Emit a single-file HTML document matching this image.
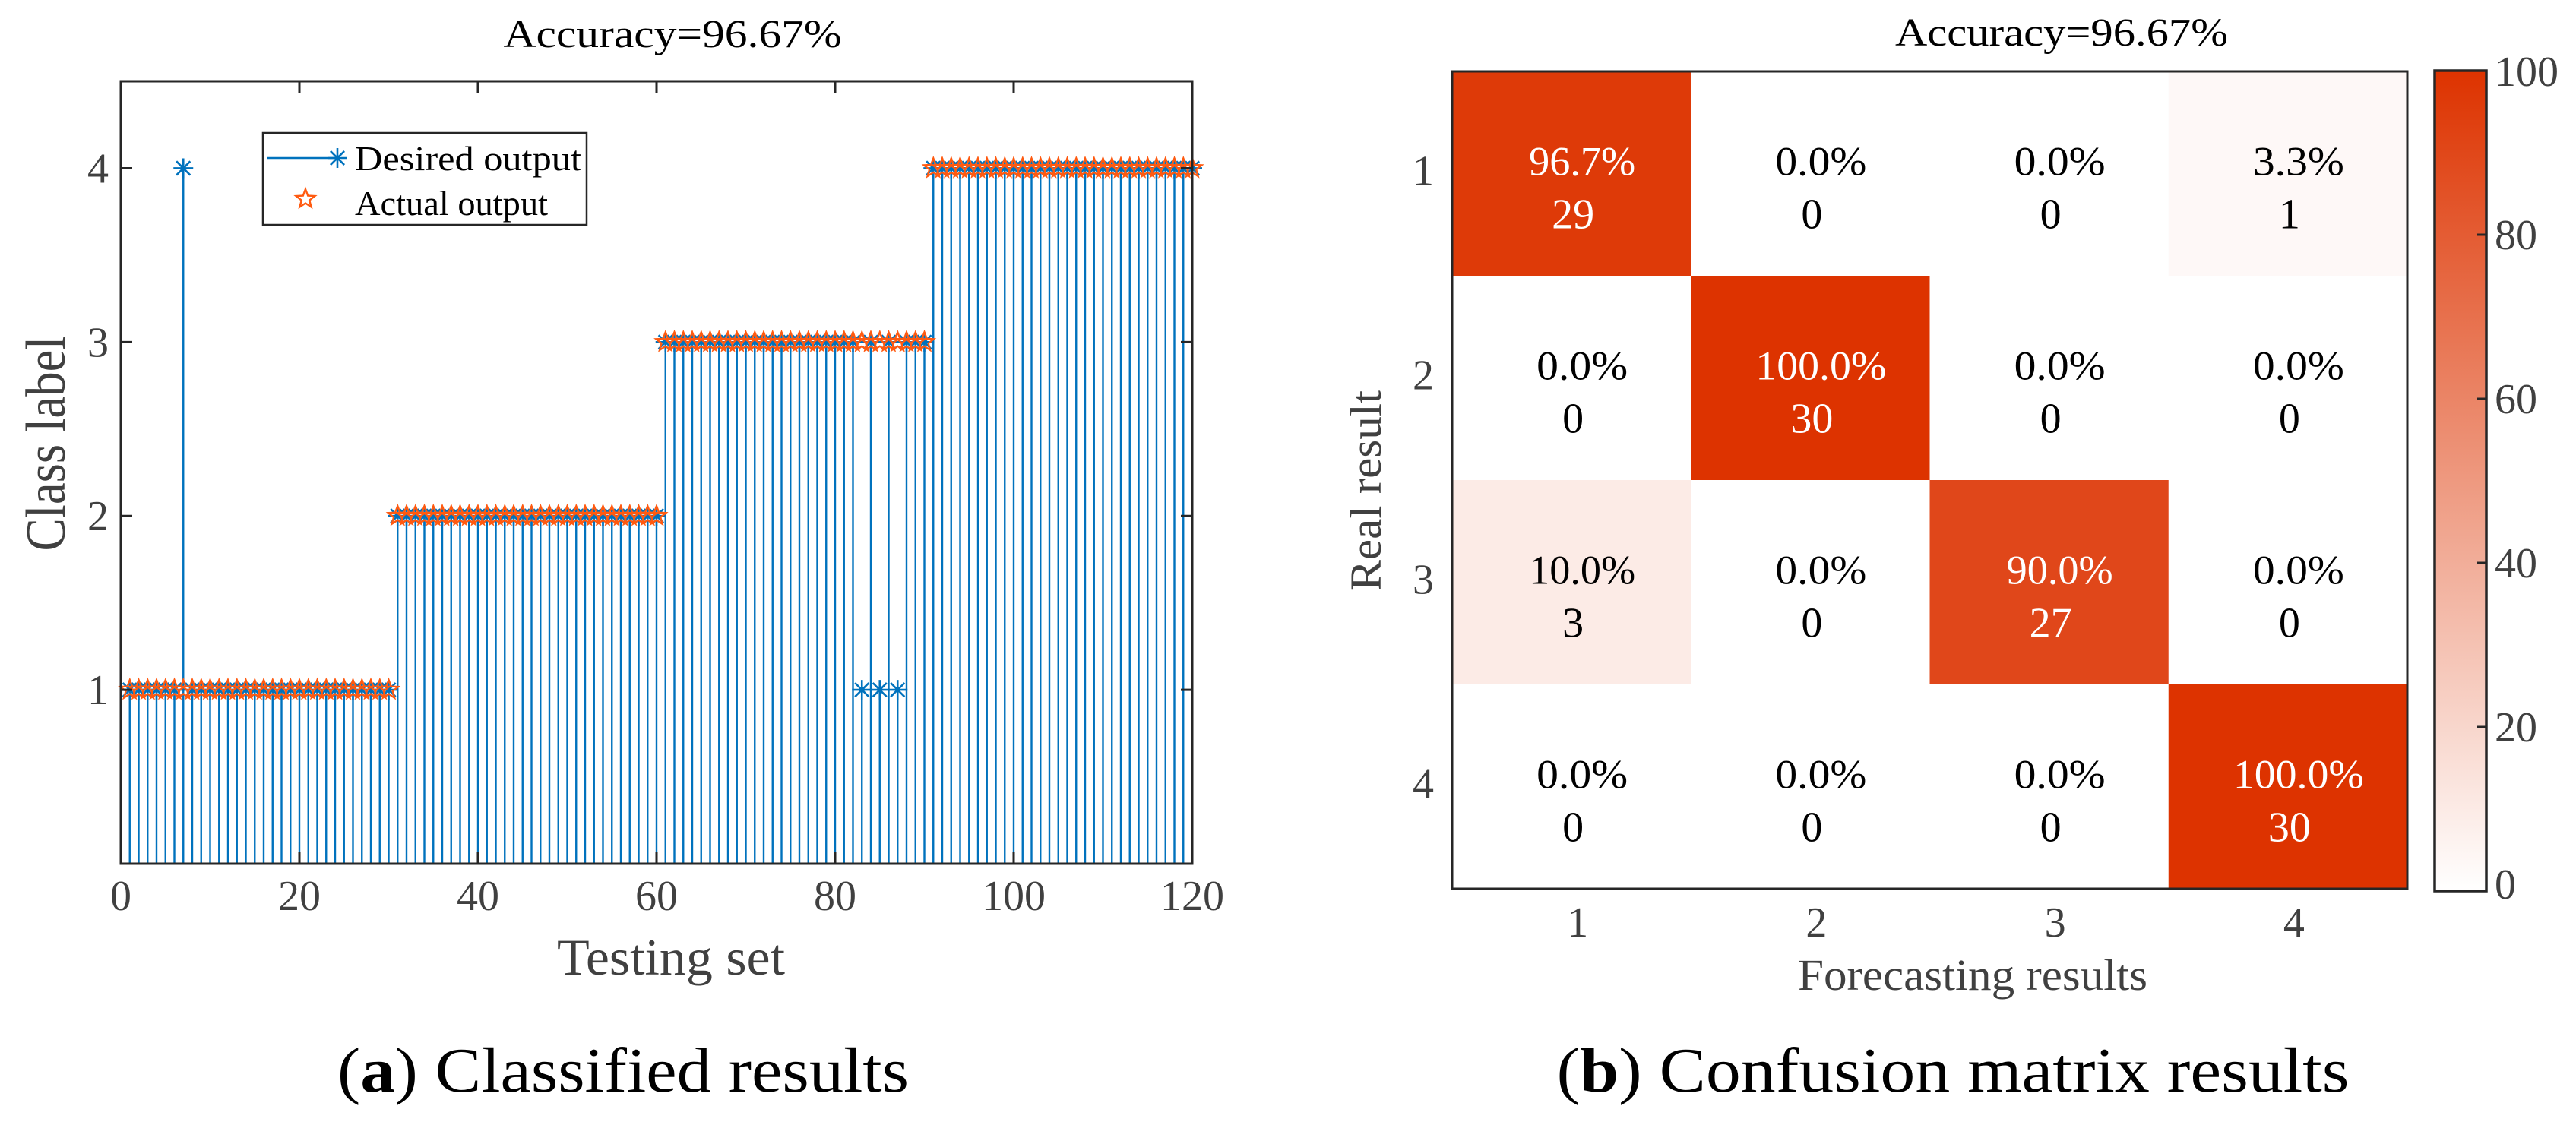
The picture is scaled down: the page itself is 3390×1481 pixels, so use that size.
<!DOCTYPE html>
<html><head><meta charset="utf-8"><style>
html,body{margin:0;padding:0;background:#fff;}
svg{display:block;font-family:"Liberation Serif",serif;}
</style></head><body>
<svg id="fig" width="3390" height="1481" viewBox="0 0 3390 1481" xmlns="http://www.w3.org/2000/svg">
<g id="left"></g>
<g id="right"></g>
</svg>
<script>
// ---------- data: classified results ----------
const sampleCount = 120;
const predictedErrors = [[7,4],[83,1],[85,1],[87,1]]; // [index, predicted class]
const trueClassBlocks = [1,2,3,4]; // 30 samples each
const leftXTicks = [0,20,40,60,80,100,120];
const leftYTicks = [1,2,3,4];
// ---------- data: confusion matrix ----------
const cmClasses = ['1','2','3','4'];
const cmPercent = [[96.7,0,0,3.3],[0,100,0,0],[10,0,90,0],[0,0,0,100]];
const cmCounts = [[29,0,0,1],[0,30,0,0],[3,0,27,0],[0,0,0,30]];
const cbTicks = [0,20,40,60,80,100];

const NS='http://www.w3.org/2000/svg';
function mk(parent,tag,attrs,text){const e=document.createElementNS(NS,tag);for(const k in attrs)e.setAttribute(k,attrs[k]);if(text!==undefined)e.textContent=text;parent.appendChild(e);return e;}

// ---------- left panel ----------
const L=document.getElementById('left');
const ax={x0:159,x1:1569,y0:1137,y1:107,xmax:120,ymax:4.5};
const X=v=>ax.x0+(v/ax.xmax)*(ax.x1-ax.x0);
const Y=v=>ax.y0-(v/ax.ymax)*(ax.y0-ax.y1);
const trueCls=[],predCls=[];
for(let i=1;i<=sampleCount;i++){const c=trueClassBlocks[Math.floor((i-1)/30)];trueCls.push(c);predCls.push(c);}
predictedErrors.forEach(([i,c])=>{predCls[i-1]=c;});

const stems=mk(L,'g',{});


function asterisk(g,cx,cy,r){
  const p=`M${cx-r},${cy}H${cx+r}M${cx},${cy-r}V${cy+r}M${cx-r*0.7},${cy-r*0.7}L${cx+r*0.7},${cy+r*0.7}M${cx-r*0.7},${cy+r*0.7}L${cx+r*0.7},${cy-r*0.7}`;
  return mk(g,'path',{d:p,stroke:'#0072BD','stroke-width':2.6,fill:'none'});
}
function starPath(cx,cy,R){const r=R*0.42;let d='';for(let k=0;k<10;k++){const a=-Math.PI/2+k*Math.PI/5;const rr=k%2?r:R;d+=(k?'L':'M')+(cx+rr*Math.cos(a)).toFixed(1)+','+(cy+rr*Math.sin(a)).toFixed(1);}return d+'Z';}
for(let i=1;i<=sampleCount;i++){
  const s=mk(stems,'line',{x1:X(i),x2:X(i),y1:Y(0),y2:Y(predCls[i-1]),stroke:'#0072BD','stroke-width':2.4});
  
  
}
const stars=mk(L,'g',{});


for(let i=1;i<=sampleCount;i++){
  const a=asterisk(stems,X(i),Y(predCls[i-1]),13);
  
  
  const st=mk(stars,'path',{d:starPath(X(i),Y(trueCls[i-1]),13),fill:'none',stroke:'#FF5A10','stroke-width':2.4});
  
  
}
const box=mk(L,'rect',{x:ax.x0,y:ax.y1,width:ax.x1-ax.x0,height:ax.y0-ax.y1,fill:'none',stroke:'#262626','stroke-width':3});


leftXTicks.forEach(t=>{
  mk(L,'path',{d:`M${X(t)},${ax.y0}v-15M${X(t)},${ax.y1}v15`,stroke:'#262626','stroke-width':3});
  const tx=mk(L,'text',{x:X(t),y:1198,'text-anchor':'middle','font-size':56,fill:'#404040'},t);
  
  
});
leftYTicks.forEach(t=>{
  mk(L,'path',{d:`M${ax.x0},${Y(t)}h15M${ax.x1},${Y(t)}h-15`,stroke:'#262626','stroke-width':3});
  const tx=mk(L,'text',{x:143,y:Y(t)+19,'text-anchor':'end','font-size':56,fill:'#404040'},t);
  
  
});
let t;
t=mk(L,'text',{x:885,y:62,'text-anchor':'middle','font-size':52,fill:'#000',textLength:445,lengthAdjust:'spacingAndGlyphs'},'Accuracy=96.67%');

t=mk(L,'text',{x:883,y:1283,'text-anchor':'middle','font-size':68,fill:'#404040',textLength:300,lengthAdjust:'spacingAndGlyphs'},'Testing set');

t=mk(L,'text',{x:0,y:0,'text-anchor':'middle','font-size':74,fill:'#404040',textLength:283,lengthAdjust:'spacingAndGlyphs',transform:'translate(85,584) rotate(-90)'},'Class label');

const lg=mk(L,'g',{});


mk(lg,'rect',{x:346,y:175,width:426,height:121,fill:'#fff',stroke:'#262626','stroke-width':2.5});
mk(lg,'line',{x1:352,x2:444,y1:208,y2:208,stroke:'#0072BD','stroke-width':2.4});
asterisk(lg,444,208,13);
mk(lg,'path',{d:starPath(402,262,13),fill:'none',stroke:'#FF5A10','stroke-width':2.4});
t=mk(lg,'text',{x:467,y:224,'font-size':46,fill:'#000',textLength:298,lengthAdjust:'spacingAndGlyphs'},'Desired output');

t=mk(lg,'text',{x:467,y:283,'font-size':46,fill:'#000',textLength:254,lengthAdjust:'spacingAndGlyphs'},'Actual output');

t=mk(L,'text',{x:820,y:1437,'text-anchor':'middle','font-size':84,fill:'#000',textLength:752,lengthAdjust:'spacingAndGlyphs'});

t.innerHTML='(<tspan font-weight="bold">a</tspan>) Classified results';

// ---------- right panel ----------
const R=document.getElementById('right');
const cm={x0:1911,x1:3168,y0:94,y1:1170};
const cw=(cm.x1-cm.x0)/4,ch=(cm.y1-cm.y0)/4;
function col(v){const f=v/100;return `rgb(${Math.round(255-34*f)},${Math.round(255-204*f)},${Math.round(255-255*f)})`;}
for(let r=0;r<4;r++)for(let c=0;c<4;c++){
  const v=cmPercent[r][c];
  const g=mk(R,'g',{});
  
  
  mk(g,'rect',{x:cm.x0+c*cw,y:cm.y0+r*ch,width:cw+0.5,height:ch+0.5,fill:col(v)});
  const cx=cm.x0+(c+0.5)*cw, cy=cm.y0+(r+0.5)*ch;
  const fc=v>50?'#fff':'#000';
  mk(g,'text',{x:cx+14,y:cy+2,'text-anchor':'middle','font-size':54,fill:fc,textLength:v>=100?172:(v>=10?140:120),lengthAdjust:'spacingAndGlyphs'},v.toFixed(1)+'%');
  mk(g,'text',{x:cx+2,y:cy+72,'text-anchor':'middle','font-size':56,fill:fc},cmCounts[r][c]);
}
t=mk(R,'rect',{x:cm.x0,y:cm.y0,width:cm.x1-cm.x0,height:cm.y1-cm.y0,fill:'none',stroke:'#262626','stroke-width':3});

cmClasses.forEach((lab,i)=>{
  t=mk(R,'text',{x:cm.x0+(i+0.5)*cw+8,y:1233,'text-anchor':'middle','font-size':56,fill:'#404040'},lab);
  
  t=mk(R,'text',{x:1873,y:cm.y0+(i+0.5)*ch+15,'text-anchor':'middle','font-size':56,fill:'#404040'},lab);
  
});
t=mk(R,'text',{x:2713,y:60,'text-anchor':'middle','font-size':52,fill:'#000',textLength:438,lengthAdjust:'spacingAndGlyphs'},'Accuracy=96.67%');

t=mk(R,'text',{x:2596,y:1303,'text-anchor':'middle','font-size':58,fill:'#404040',textLength:460,lengthAdjust:'spacingAndGlyphs'},'Forecasting results');

t=mk(R,'text',{x:0,y:0,'text-anchor':'middle','font-size':58,fill:'#404040',textLength:264,lengthAdjust:'spacingAndGlyphs',transform:'translate(1817,646) rotate(-90)'},'Real result');

const cb={x0:3204,x1:3272,y0:93,y1:1173};
const defs=mk(R,'defs',{});
const gr=mk(defs,'linearGradient',{id:'cbg',x1:0,y1:1,x2:0,y2:0});
mk(gr,'stop',{offset:'0',"stop-color":col(0)});
mk(gr,'stop',{offset:'1',"stop-color":col(100)});
t=mk(R,'rect',{x:cb.x0,y:cb.y0,width:cb.x1-cb.x0,height:cb.y1-cb.y0,fill:'url(#cbg)',stroke:'#262626','stroke-width':3.5});

const CY=v=>cb.y1-(v/100)*(cb.y1-cb.y0);
cbTicks.forEach(v=>{
  if(v>0&&v<100)mk(R,'line',{x1:cb.x1-12,x2:cb.x1,y1:CY(v),y2:CY(v),stroke:'#262626','stroke-width':3});
  t=mk(R,'text',{x:3283,y:CY(v)+(v===100?20:(v===0?10:19)),'font-size':56,fill:'#404040'},v);
  
});
t=mk(R,'text',{x:2570,y:1437,'text-anchor':'middle','font-size':84,fill:'#000',textLength:1043,lengthAdjust:'spacingAndGlyphs'});

t.innerHTML='(<tspan font-weight="bold">b</tspan>) Confusion matrix results';
</script>
</body></html>
